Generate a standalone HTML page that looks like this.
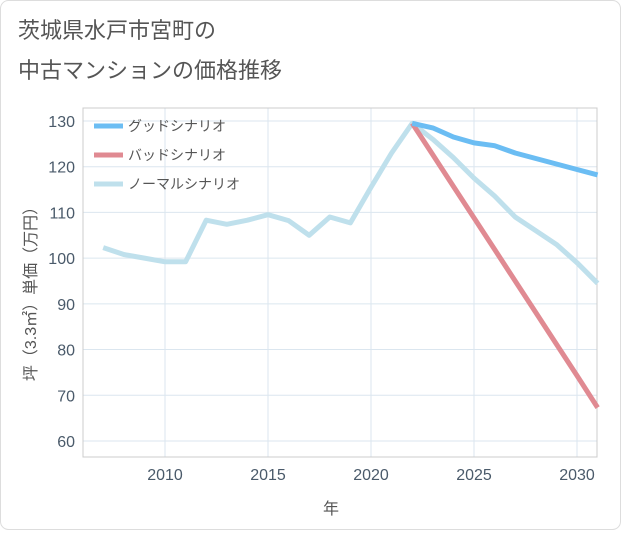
<!DOCTYPE html>
<html><head><meta charset="utf-8">
<style>
body{margin:0;background:#fff;font-family:"Liberation Sans","Noto Sans CJK JP",sans-serif;}
#wrap{position:relative;width:621px;height:530px;}
</style></head>
<body>
<div id="wrap">
<svg id="svg" width="621" height="530" xmlns="http://www.w3.org/2000/svg">
<rect x="0.5" y="0.5" width="620" height="529" rx="8" fill="#fff" stroke="#ddd"/>
<text x="18" y="38" font-size="22" fill="#555">茨城県水戸市宮町の</text>
<text x="18" y="78" font-size="22" fill="#555">中古マンションの価格推移</text>
<text transform="translate(36,290) rotate(-90)" text-anchor="middle" font-size="16" fill="#555">坪（3.3㎡）単価（万円）</text>
<text x="331" y="514" text-anchor="middle" font-size="16" fill="#555">年</text>
<g id="grid"></g>
<rect x="83" y="108" width="514" height="349" fill="none" stroke="#ccc"/>
<g id="series"></g>
<g id="legend"></g>
</svg>
</div>
<script>
const years=[2007,2008,2009,2010,2011,2012,2013,2014,2015,2016,2017,2018,2019,2020,2021,2022,2023,2024,2025,2026,2027,2028,2029,2030,2031];
const normalValues=[102.3,100.8,100,99.2,99.2,108.3,107.4,108.3,109.5,108.2,105,109,107.7,115.5,123,129.5,126,122,117.5,113.6,109,106,103,99,94.5];
const forecastYears=[2022,2023,2024,2025,2026,2027,2028,2029,2030,2031];
const goodValues=[129.5,128.5,126.5,125.2,124.6,123,121.8,120.6,119.4,118.2];
const badValues=[129.5,122.6,115.7,108.8,101.9,95,88.1,81.2,74.3,67.3];
const yTicks=[60,70,80,90,100,110,120,130];
const xTicks=[2010,2015,2020,2025,2030];
const seriesNames=["グッドシナリオ","バッドシナリオ","ノーマルシナリオ"];

const NS="http://www.w3.org/2000/svg";
const X0=83,X1=597,Y0=108,Y1=457;
const xs=y=>165+(y-2010)*20.6;
const ys=v=>121+(130-v)*4.571;
function mk(t,a,p){const e=document.createElementNS(NS,t);for(const k in a)e.setAttribute(k,a[k]);p.appendChild(e);return e;}
const grid=document.getElementById('grid');
yTicks.forEach(v=>{
  const l=mk('line',{x1:X0,x2:X1,y1:ys(v),y2:ys(v),stroke:'#dbe6ef'},grid);
  
  
  const t=mk('text',{x:X0-8,y:ys(v)+6,'text-anchor':'end','font-size':16,fill:'#4a5a6a'},grid);
  t.textContent=v;
  
  
});
xTicks.forEach(v=>{
  const l=mk('line',{x1:xs(v),x2:xs(v),y1:Y0,y2:Y1,stroke:'#dbe6ef'},grid);
  
  
  const t=mk('text',{x:xs(v),y:Y1+23,'text-anchor':'middle','font-size':16,fill:'#4a5a6a'},grid);
  t.textContent=v;
  
  
});
const ser=document.getElementById('series');
function line(xv,yv,color,name){
  const d=xv.map((x,i)=>(i?'L':'M')+xs(x).toFixed(1)+','+ys(yv[i]).toFixed(1)).join('');
  const p=mk('path',{d:d,fill:'none',stroke:color,'stroke-width':5,'stroke-linejoin':'round'},ser);
  
  
}
line(years,normalValues,'#bfe0ec','normal-scenario-line');
line(forecastYears,badValues,'#e08a92','bad-scenario-line');
line(forecastYears,goodValues,'#6bbdf3','good-scenario-line');
const leg=document.getElementById('legend');
const colors=['#6bbdf3','#e08a92','#bfe0ec'];
seriesNames.forEach((n,i)=>{
  const y=126+i*29;
  const l=mk('line',{x1:94,x2:123,y1:y,y2:y,stroke:colors[i],'stroke-width':5},leg);
  
  
  const t=mk('text',{x:128,y:y+5,'font-size':14,fill:'#555'},leg);
  t.textContent=n;
  
  
});
</script>
</body></html>
